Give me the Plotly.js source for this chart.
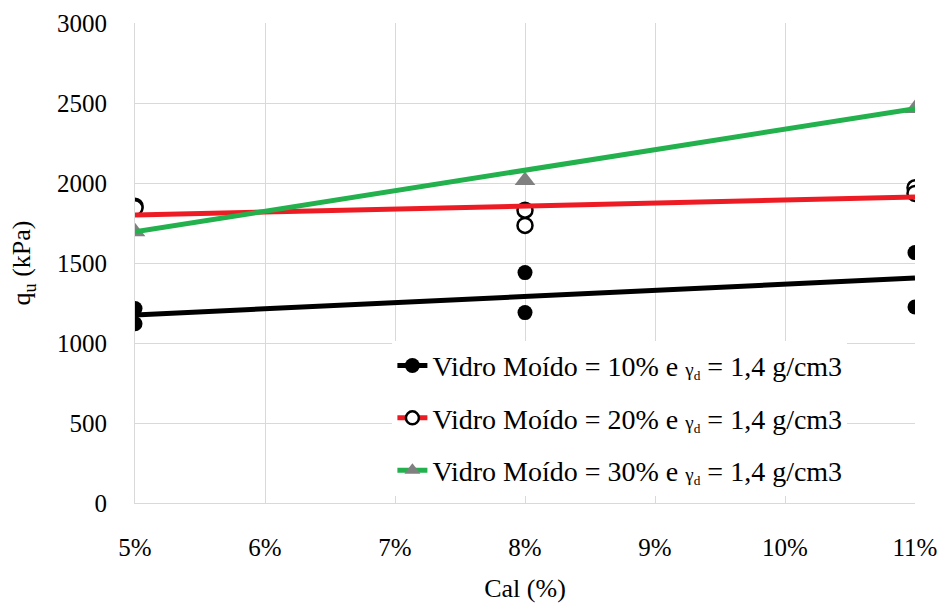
<!DOCTYPE html>
<html>
<head>
<meta charset="utf-8">
<script src="https://cdn.plot.ly/plotly-3.0.1.min.js"></script>
<style>
html,body{margin:0;padding:0;background:#fff;}
#chart{width:944px;height:611px;}
#chart svg text{font-family:'Liberation Serif','Times New Roman',serif !important;}
</style>
</head>
<body>
<div id="chart"></div>
<script>
// Data
const calPct = [5, 6, 7, 8, 9, 10, 11];            // x tick values (Cal %)
const calLabels = ['5%', '6%', '7%', '8%', '9%', '10%', '11%'];
const x10 = [5, 5, 8, 8, 11, 11];
const y10 = [1215, 1120, 1440, 1190, 1565, 1225];  // Vidro Moído = 10%
const x20 = [5, 5, 8, 8, 11, 11];
const y20 = [1855, 1845, 1830, 1735, 1970, 1935];  // Vidro Moído = 20%
const x30 = [5, 8, 11];
const y30 = [1695, 2015, 2465];                     // Vidro Moído = 30%
const trendX = [5, 11];
const trend10 = [1175, 1406];
const trend20 = [1800, 1912];
const trend30 = [1695, 2465];
const names = [
  'Vidro Moído = 10% e <span style="font-size:19px">γ<sub>d</sub></span> = 1,4 g/cm3',
  'Vidro Moído = 20% e <span style="font-size:19px">γ<sub>d</sub></span> = 1,4 g/cm3',
  'Vidro Moído = 30% e <span style="font-size:19px">γ<sub>d</sub></span> = 1,4 g/cm3'
];

const RED = '#ed1c24', GREEN = '#22b14c', BLACK = '#000000', GRAY = '#808080';
const SERIF = 'Liberation Serif, Times New Roman, serif';
const mk10 = {symbol: 'circle', size: 15, color: BLACK};
const mk30 = {symbol: 'triangle-up', size: 18, color: GRAY};

const traces = [
  {x: x10, y: y10, mode: 'markers', marker: mk10, showlegend: false},
  {x: x20, y: y20, mode: 'markers', marker: {symbol: 'circle', size: 15, color: '#ffffff', line: {width: 2.5, color: BLACK}}, showlegend: false},
  {x: x30, y: y30, mode: 'markers', marker: mk30, showlegend: false},
  {x: trendX, y: trend10, mode: 'lines', line: {color: BLACK, width: 5}, showlegend: false},
  {x: trendX, y: trend20, mode: 'lines', line: {color: RED, width: 5}, showlegend: false},
  {x: trendX, y: trend30, mode: 'lines', line: {color: GREEN, width: 5}, showlegend: false},
  {x: [null], y: [null], mode: 'lines+markers', name: names[0], legendgroup: 'a', line: {color: BLACK, width: 5}, marker: mk10},
  {x: [null], y: [null], mode: 'lines+markers', name: names[1], legendgroup: 'b', line: {color: RED, width: 5}, marker: {symbol: 'circle', size: 13, color: '#ffffff', line: {width: 2.5, color: BLACK}}},
  {x: [null], y: [null], mode: 'lines+markers', name: names[2], legendgroup: 'c', line: {color: GREEN, width: 5}, marker: {symbol: 'triangle-up', size: 14, color: GRAY}}
];

const layout = {
  width: 944, height: 611,
  margin: {l: 135, r: 29, t: 23, b: 108},
  paper_bgcolor: '#ffffff', plot_bgcolor: '#ffffff',
  font: {family: SERIF, color: '#000000', size: 24},
  showlegend: true,
  legend: {
    x: 0.33, y: 0.338, xanchor: 'left', yanchor: 'top',
    bgcolor: '#ffffff', borderwidth: 0,
    font: {family: SERIF, size: 28, color: '#000000'},
    tracegroupgap: 13, traceorder: 'grouped'
  },
  xaxis: {
    range: [5, 11], tickvals: calPct, ticktext: calLabels,
    showgrid: true, gridcolor: '#d9d9d9', gridwidth: 1,
    showline: true, linecolor: '#d9d9d9', linewidth: 1,
    zeroline: false,
    ticks: 'outside', ticklen: 22, tickcolor: 'rgba(0,0,0,0)',
    tickfont: {family: SERIF, size: 25},
    title: {text: 'Cal (%)', font: {family: SERIF, size: 26}, standoff: 18}
  },
  yaxis: {
    range: [0, 3000], dtick: 500,
    showgrid: true, gridcolor: '#d9d9d9', gridwidth: 1,
    showline: true, linecolor: '#d9d9d9', linewidth: 1,
    zeroline: true, zerolinecolor: '#d9d9d9', zerolinewidth: 1,
    ticks: 'outside', ticklen: 22, tickcolor: 'rgba(0,0,0,0)',
    tickfont: {family: SERIF, size: 25},
    title: {text: 'q<sub>u</sub> (kPa)', font: {family: SERIF, size: 26}, standoff: 18}
  }
};

Plotly.newPlot('chart', traces, layout, {staticPlot: true, displayModeBar: false});
</script>
</body>
</html>
